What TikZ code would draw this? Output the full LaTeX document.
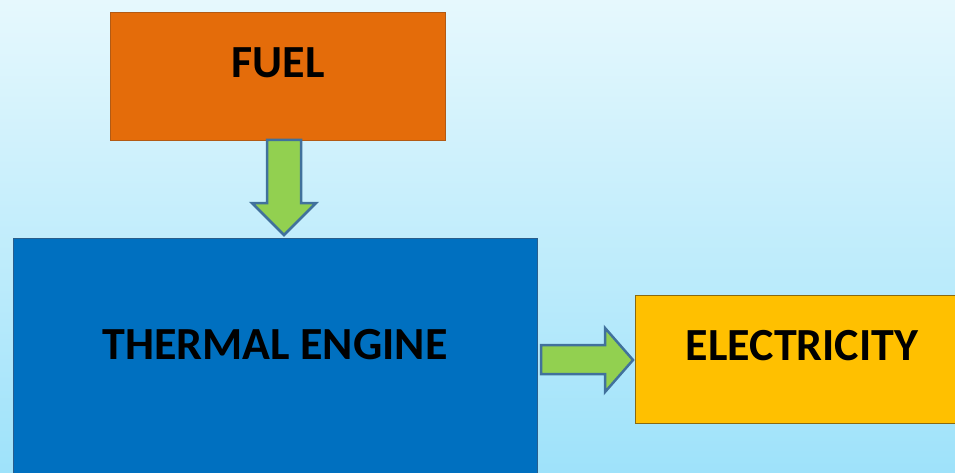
\documentclass[tikz,border=0pt]{standalone}
\usepackage{fontspec}
\setmainfont{Carlito}
\definecolor{bgtop}{HTML}{E6F8FD}
\definecolor{bgbot}{HTML}{9EE2FA}
\definecolor{fuelorange}{HTML}{E46C0A}
\definecolor{fueledge}{HTML}{B25A14}
\definecolor{engineblue}{HTML}{0070C0}
\definecolor{engineedge}{HTML}{2A5E8C}
\definecolor{elecyellow}{HTML}{FFC000}
\definecolor{elecedge}{HTML}{8A6A10}
\definecolor{arrowgreen}{HTML}{92D050}
\definecolor{arrowedge}{HTML}{41719C}
\begin{document}
\begin{tikzpicture}[x=1pt,y=-1pt,
  box/.style={draw, line width=0.8pt, inner sep=0pt, outer sep=0pt, anchor=north west},
  lbl/.style={font=\fontsize{46}{50}\selectfont\bfseries, text=black, inner sep=0pt},
  blockarrow/.style={fill=arrowgreen, draw=arrowedge, line width=2.5pt, line join=miter}]
\shade[top color=bgtop, bottom color=bgbot] (0,0) rectangle (955,473);
\useasboundingbox (0,0) rectangle (955,473);
\clip (0,0) rectangle (955,473);
\node[box, fill=fuelorange, draw=fueledge, minimum width=335pt, minimum height=128pt] (fuel) at (110,12) {};
\node[lbl] (fueltxt) at (278,63) {FUEL};
\node[box, fill=engineblue, draw=engineedge, minimum width=524pt, minimum height=260pt] (engine) at (13,238) {};
\node[lbl] (enginetxt) at (275,345) {THERMAL ENGINE};
\node[box, fill=elecyellow, draw=elecedge, minimum width=330pt, minimum height=128pt] (elec) at (635,295) {};
\node[lbl] (electxt) at (802,346) {ELECTRICITY};
\draw[blockarrow] (267,140) -- (301,140) -- (301,203) -- (316,203) -- (284,235) -- (252,203) -- (267,203) -- cycle;
\draw[blockarrow] (541,345) -- (605,345) -- (605,328) -- (633,360) -- (605,392) -- (605,374) -- (541,374) -- cycle;
\end{tikzpicture}
\end{document}
